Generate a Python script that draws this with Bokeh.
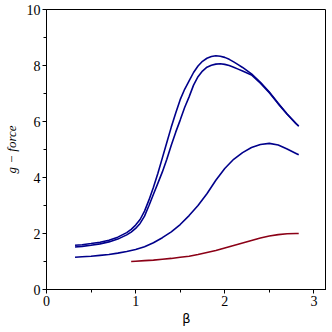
from bokeh.plotting import figure
from bokeh.models import Range1d, SingleIntervalTicker
from bokeh.embed import file_html
from bokeh.resources import INLINE

# Curve 1 (upper blue)
x1 = [0.32, 0.4, 0.5, 0.6, 0.7, 0.8, 0.9, 0.95, 1.0, 1.05, 1.1, 1.15, 1.2, 1.25, 1.3, 1.35, 1.4, 1.45,
      1.5, 1.55, 1.6, 1.65, 1.7, 1.75, 1.8, 1.85, 1.9, 1.95, 2.0, 2.05, 2.1, 2.15, 2.2, 2.3, 2.4, 2.5,
      2.6, 2.7, 2.8, 2.83]
y1 = [1.58, 1.60, 1.64, 1.69, 1.76, 1.87, 2.03, 2.15, 2.30, 2.50, 2.80, 3.20, 3.65, 4.15, 4.70, 5.25, 5.80, 6.30,
      6.78, 7.15, 7.45, 7.75, 7.98, 8.15, 8.26, 8.32, 8.35, 8.33, 8.29, 8.22, 8.13, 8.03, 7.93, 7.70, 7.40, 7.05,
      6.65, 6.27, 5.93, 5.84]

# Curve 2 (second blue)
x2 = [0.32, 0.4, 0.5, 0.6, 0.7, 0.8, 0.9, 0.95, 1.0, 1.05, 1.1, 1.15, 1.2, 1.25, 1.3, 1.35, 1.4, 1.45,
      1.5, 1.55, 1.6, 1.65, 1.7, 1.75, 1.8, 1.85, 1.9, 1.95, 2.0, 2.05, 2.1, 2.15, 2.2, 2.3, 2.4, 2.5,
      2.6, 2.7, 2.8, 2.83]
y2 = [1.52, 1.54, 1.58, 1.63, 1.70, 1.80, 1.95, 2.05, 2.18, 2.36, 2.62, 3.00, 3.40, 3.80, 4.20, 4.65, 5.15, 5.62,
      6.05, 6.50, 6.88, 7.30, 7.60, 7.80, 7.94, 8.01, 8.05, 8.06, 8.04, 8.00, 7.94, 7.87, 7.80, 7.66, 7.37, 7.03,
      6.63, 6.26, 5.92, 5.83]

# Curve 3 (lower blue)
x3 = [0.32, 0.4, 0.5, 0.6, 0.7, 0.8, 0.9, 1.0, 1.1, 1.2, 1.3, 1.4, 1.5, 1.6, 1.7, 1.8, 1.9, 2.0, 2.1,
      2.2, 2.3, 2.4, 2.5, 2.6, 2.7, 2.8, 2.83]
y3 = [1.15, 1.17, 1.19, 1.22, 1.25, 1.30, 1.36, 1.43, 1.53, 1.67, 1.85, 2.06, 2.32, 2.64, 3.00, 3.42, 3.90, 4.32, 4.65,
      4.89, 5.07, 5.18, 5.22, 5.16, 5.02, 4.86, 4.81]

# Curve 4 (red)
x4 = [0.95, 1.0, 1.1, 1.2, 1.3, 1.4, 1.5, 1.6, 1.7, 1.8, 1.9, 2.0, 2.1, 2.2, 2.3, 2.4, 2.5, 2.6, 2.7, 2.8, 2.83]
y4 = [1.00, 1.01, 1.03, 1.05, 1.08, 1.11, 1.15, 1.19, 1.25, 1.32, 1.39, 1.48, 1.57, 1.66, 1.75, 1.84, 1.91, 1.96,
      1.99, 2.00, 2.00]

BLUE = "#00008B"
RED = "#8B0016"

p = figure(width=326, height=328, output_backend="svg", toolbar_location=None,
           x_range=Range1d(0, 3.1416), y_range=Range1d(0, 10),
           min_border_left=40, min_border_right=0, min_border_top=9, min_border_bottom=0)

for xs, ys, c in [(x1, y1, BLUE), (x2, y2, BLUE), (x3, y3, BLUE), (x4, y4, RED)]:
    p.line(xs, ys, line_color=c, line_width=1.6)

p.xgrid.visible = False
p.ygrid.visible = False
p.outline_line_color = "black"
p.outline_line_width = 1
p.outline_line_alpha = 1

p.xaxis.ticker = SingleIntervalTicker(interval=1, num_minor_ticks=2)
p.yaxis.ticker = SingleIntervalTicker(interval=2, num_minor_ticks=2)

for ax in (p.xaxis[0], p.yaxis[0]):
    ax.axis_line_color = "black"
    ax.major_tick_line_color = "black"
    ax.minor_tick_line_color = "black"
    ax.major_tick_in = 0
    ax.major_tick_out = 4
    ax.minor_tick_in = 0
    ax.minor_tick_out = 3
    ax.major_label_text_font = "Liberation Serif"
    ax.major_label_text_font_size = "14px"
    ax.major_label_text_color = "black"
    ax.major_label_standoff = 2
    ax.axis_label_text_color = "black"

p.xaxis.axis_label = "β"
p.xaxis.axis_label_text_font = "DejaVu Sans"
p.xaxis.axis_label_text_font_style = "normal"
p.xaxis.axis_label_text_font_size = "13px"
p.xaxis.axis_label_standoff = 2

p.yaxis.axis_label = "g − force"
p.yaxis.axis_label_text_font = "Liberation Serif"
p.yaxis.axis_label_text_font_style = "italic"
p.yaxis.axis_label_text_font_size = "13px"
p.yaxis.axis_label_standoff = 5

open("out.html", "w").write(file_html(p, INLINE))
